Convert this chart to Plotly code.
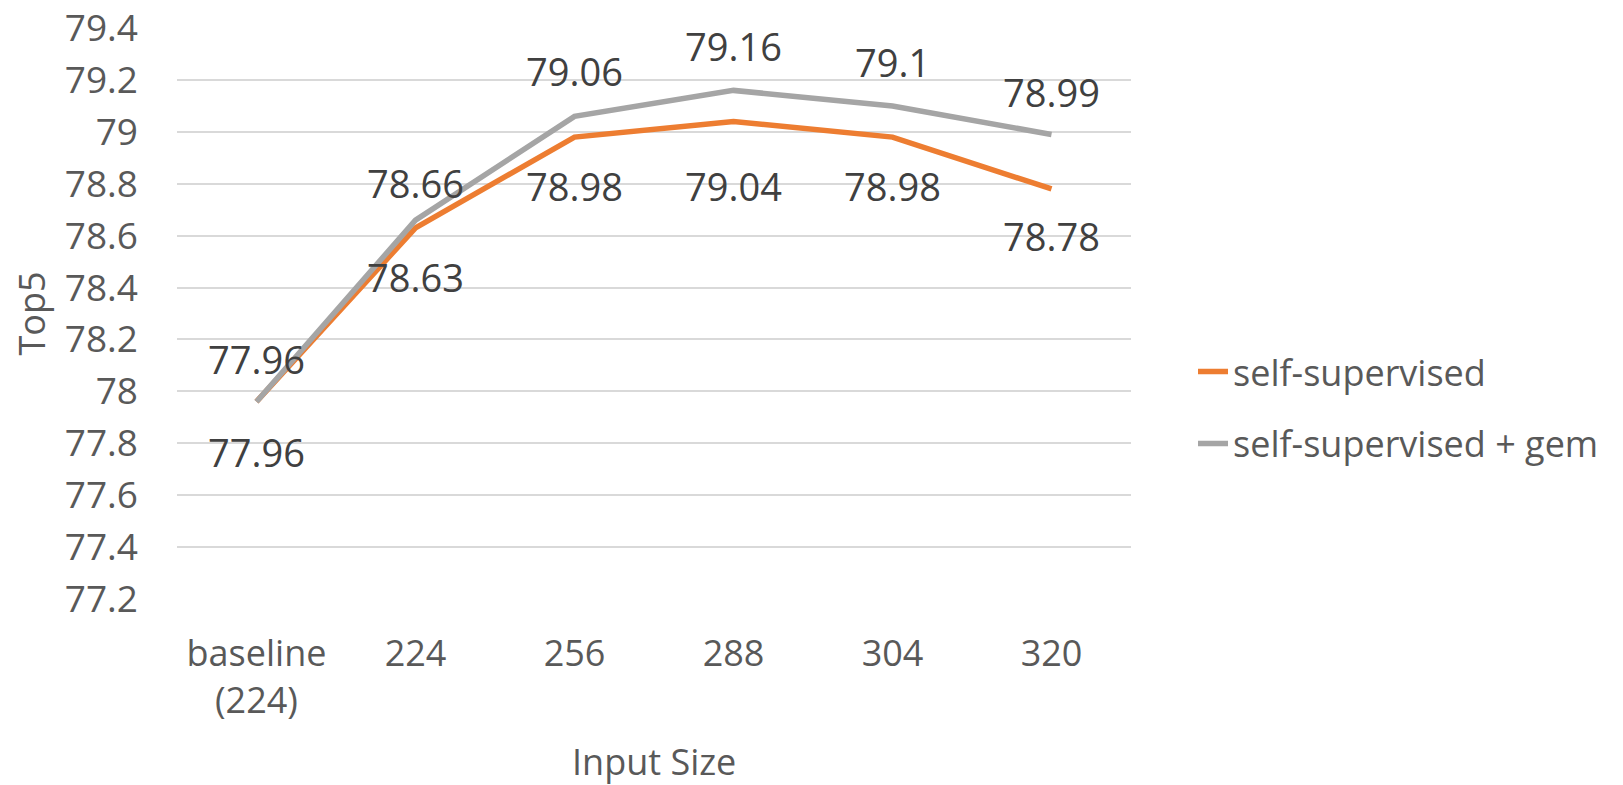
import plotly.graph_objects as go

categories = ["baseline<br>(224)", "224", "256", "288", "304", "320"]
self_supervised = [77.96, 78.63, 78.98, 79.04, 78.98, 78.78]
self_supervised_gem = [77.96, 78.66, 79.06, 79.16, 79.10, 78.99]
y_ticks = [77.2, 77.4, 77.6, 77.8, 78.0, 78.2, 78.4, 78.6, 78.8, 79.0, 79.2, 79.4]
y_ticktext = ["77.2", "77.4", "77.6", "77.8", "78", "78.2", "78.4", "78.6", "78.8", "79", "79.2", "79.4"]

# label offsets (pixels) - styling only
orange_label_shift = [-50, -49, -49, -64, -49, -47]
gray_label_shift = [43, 37, 45, 44, 44, 43]

FONT = "Open Sans"
ORANGE = "#ED7D31"
GRAY = "#A5A5A5"

fig = go.Figure()
fig.add_trace(go.Scatter(
    x=categories, y=self_supervised, mode="lines", name="self-supervised",
    line=dict(color=ORANGE, width=5.5), legendgroup="a",
))
fig.add_trace(go.Scatter(
    x=categories, y=self_supervised_gem, mode="lines", name="self-supervised + gem",
    line=dict(color=GRAY, width=5.5), legendgroup="b",
))

annotations = []
for i, (v, s) in enumerate(zip(self_supervised, orange_label_shift)):
    annotations.append(dict(x=i, y=v, xref="x", yref="y", text=f"{v:g}", showarrow=False,
                            yshift=s, font=dict(family=FONT, size=38, color="#404040")))
for i, (v, s) in enumerate(zip(self_supervised_gem, gray_label_shift)):
    annotations.append(dict(x=i, y=v, xref="x", yref="y", text=f"{v:g}", showarrow=False,
                            yshift=s, font=dict(family=FONT, size=38, color="#404040")))
# x-axis title
annotations.append(dict(x=0.5, y=-0.285, xref="paper", yref="paper", text="Input Size",
                        showarrow=False, xanchor="center", yanchor="middle",
                        font=dict(family=FONT, size=36, color="#595959")))

fig.update_layout(
    width=1623, height=785,
    margin=dict(l=177, r=492, t=28, b=186, autoexpand=False),
    paper_bgcolor="white", plot_bgcolor="white",
    font=dict(family=FONT, size=36, color="#595959"),
    showlegend=True,
    legend=dict(x=1.065, xanchor="left", y=0.335, yanchor="middle",
                font=dict(family=FONT, size=36, color="#595959"),
                tracegroupgap=22, bgcolor="rgba(0,0,0,0)"),
    annotations=annotations,
    xaxis=dict(
        type="category", range=[-0.5, 5.5], showgrid=False, showline=False, zeroline=False,
        ticks="", ticklabelstandoff=30,
        tickfont=dict(family=FONT, size=36, color="#595959"),
    ),
    yaxis=dict(
        range=[77.1995, 79.4005], tickvals=y_ticks, ticktext=y_ticktext,
        showgrid=True, gridcolor="#D9D9D9", gridwidth=1.5, showline=False, zeroline=False,
        ticks="", ticklabelstandoff=38,
        tickfont=dict(family=FONT, size=37, color="#595959"),
        title=dict(text="Top5", standoff=8, font=dict(family=FONT, size=36, color="#595959")),
    ),
)

fig.write_html("out.html")
